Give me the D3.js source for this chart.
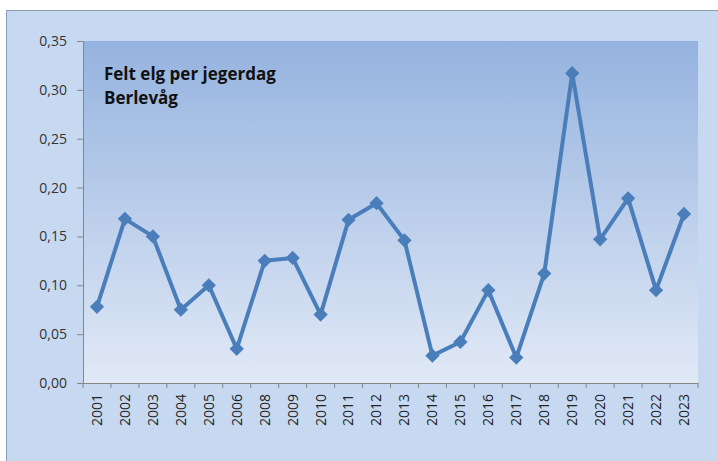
<!DOCTYPE html>
<html><head><meta charset="utf-8">
<script src="https://cdn.jsdelivr.net/npm/d3@7"></script>
<style>body{margin:0;background:#fff}svg{display:block}</style>
</head><body>
<script>
const years = ["2001","2002","2003","2004","2005","2006","2008","2009","2010","2011","2012","2013","2014","2015","2016","2017","2018","2019","2020","2021","2022","2023"];
const values = [0.078,0.168,0.150,0.075,0.100,0.035,0.125,0.128,0.070,0.167,0.184,0.146,0.028,0.042,0.095,0.026,0.112,0.317,0.147,0.189,0.095,0.173];
const yTicks = [0,0.05,0.10,0.15,0.20,0.25,0.30,0.35];
const titleLines = ["Felt elg per jegerdag","Berlevåg"];

const W=718,H=461;
const m={l:83,r:20,t:41,b:78};
const svg=d3.select("body").append("svg").attr("width",W).attr("height",H);
const defs=svg.append("defs");
const g1=defs.append("linearGradient").attr("id","pg").attr("x1",0).attr("y1",0).attr("x2",0).attr("y2",1);
g1.append("stop").attr("offset","0%").attr("stop-color","#95b3df");
g1.append("stop").attr("offset","100%").attr("stop-color","#e1e9f6");

svg.append("rect").attr("x",6.5).attr("y",10.5).attr("width",W).attr("height",H).attr("fill","#c6d9f1").attr("stroke","#8c9cb3").attr("stroke-width",1);

const x=d3.scaleBand().domain(years).range([m.l,W-m.r]);
const y=d3.scaleLinear().domain([0,0.35]).range([H-m.b,m.t]);

svg.append("rect").attr("x",m.l).attr("y",m.t).attr("width",W-m.r-m.l).attr("height",H-m.b-m.t).attr("fill","url(#pg)");

const fmt=d=>d3.format(".2f")(d).replace(".",",");
const ya=svg.append("g").attr("transform",`translate(${m.l},0)`)
  .call(d3.axisLeft(y).tickValues(yTicks).tickFormat(fmt).tickSize(6).tickPadding(10));
ya.select(".domain").attr("stroke","#868686");
ya.selectAll(".tick line").attr("stroke","#868686");
ya.selectAll("text").attr("font-family","'Open Sans',sans-serif").attr("font-size","14px").attr("fill","#333");

const xa=svg.append("g").attr("transform",`translate(0,${H-m.b})`)
  .call(d3.axisBottom(x).tickSize(0).tickPadding(0));
xa.select(".domain").attr("stroke","#868686");
xa.selectAll(".tick line").remove();
const bounds=years.map(d=>x(d)).concat([x(years[years.length-1])+x.bandwidth()]);
xa.selectAll(".bt").data(bounds).enter().append("line").attr("x1",d=>d).attr("x2",d=>d).attr("y1",0).attr("y2",5).attr("stroke","#868686");
xa.selectAll(".tick text").attr("font-family","'Open Sans',sans-serif").attr("font-size","14px").attr("fill","#222")
  .attr("transform","rotate(-90)").attr("text-anchor","end").attr("dy","0.35em").attr("x",-11).attr("y",0);

const cx=d=>x(d)+x.bandwidth()/2;
const line=d3.line().x((d,i)=>cx(years[i])).y(d=>y(d));
svg.append("path").datum(values).attr("d",line).attr("fill","none").attr("stroke","#4a7ebb").attr("stroke-width",4).attr("stroke-linejoin","round");
svg.selectAll(".mk").data(values).enter().append("path")
  .attr("d",d3.symbol().type(d3.symbolDiamond2).size(130))
  .attr("transform",(d,i)=>`translate(${cx(years[i])},${y(d)})`).attr("fill","#4a7ebb");

svg.append("g").selectAll("text").data(titleLines).enter().append("text")
  .attr("x",104).attr("y",(d,i)=>80+i*24).text(d=>d)
  .attr("font-family","'Open Sans',sans-serif").attr("font-weight","bold").attr("font-size","17px").attr("fill","#111");
</script>
</body></html>
